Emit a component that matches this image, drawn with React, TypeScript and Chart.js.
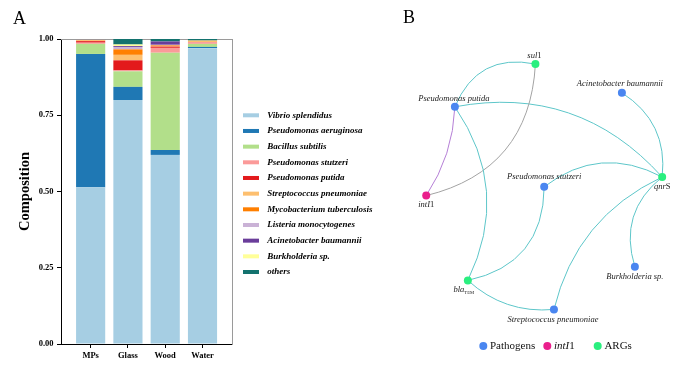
import React, { useEffect, useRef } from 'react';
import { Chart, registerables } from 'chart.js';

Chart.register(...registerables);

// ---------- Panel A data ----------
const categories = ['MPs', 'Glass', 'Wood', 'Water'];
const speciesNames = [
  'Vibrio splendidus',
  'Pseudomonas aeruginosa',
  'Bacillus subtilis',
  'Pseudomonas stutzeri',
  'Pseudomonas putida',
  'Streptococcus pneumoniae',
  'Mycobacterium tuberculosis',
  'Listeria monocytogenes',
  'Acinetobacter baumannii',
  'Burkholderia sp.',
  'others',
];
const vibrio = [0.514, 0.8, 0.62, 0.97];
const aeruginosa = [0.437, 0.043, 0.016, 0.004];
const bacillus = [0.033, 0.051, 0.319, 0.01];
const stutzeri = [0.004, 0.003, 0.016, 0.006];
const putida = [0.005, 0.033, 0.004, 0.0];
const streptococcus = [0.002, 0.018, 0.001, 0.005];
const mycobacterium = [0.002, 0.018, 0.003, 0.0];
const listeria = [0.001, 0.008, 0.002, 0.0];
const acinetobacter = [0.0005, 0.003, 0.011, 0.0];
const burkholderia = [0.0005, 0.005, 0.0, 0.0];
const others = [0.001, 0.018, 0.008, 0.005];
const yTickStep = 0.25;

// ---------- Panel B data ----------
const nodeNames = [
  'Pseudomonas putida',
  'sul1',
  'Acinetobacter baumannii',
  'qnrS',
  'Pseudomonas stutzeri',
  'intI1',
  'blaTEM',
  'Streptococcus pneumoniae',
  'Burkholderia sp.',
];
const nodeTypes = ['Pathogens', 'ARGs', 'Pathogens', 'ARGs', 'Pathogens', 'intI1', 'ARGs', 'Pathogens', 'Pathogens'];
const nodeX = [72.7, 155.3, 244, 285.3, 164.3, 43.3, 86, 174.3, 257.3];
const nodeY = [105, 61.3, 90.7, 176.7, 186.7, 195.7, 282.3, 312, 268.3];
const edgeFrom = [0, 0, 0, 1, 0, 4, 4, 2, 7, 8, 6];
const edgeTo = [1, 3, 5, 5, 6, 6, 3, 3, 3, 3, 7];
const groups = ['Pathogens', 'intI1', 'ARGs'];

// ---------- styles ----------
const SERIF = "'Liberation Serif', 'Times New Roman', serif";
const speciesColors = [
  '#a6cee3', '#1f78b4', '#b2df8a', '#fb9a99', '#e31a1c', '#fdbf6f',
  '#ff7f00', '#cab2d6', '#6a3d9a', '#ffff99', '#13726e',
];
const groupColors: Record<string, string> = { Pathogens: '#4a86f0', intI1: '#ea1f8c', ARGs: '#2aef7f' };
const edgeBend = [-0.41, -0.28, -0.14, -0.37, -0.29, -0.4, -0.32, -0.31, -0.24, -0.34, 0.22];
const labelDx = [-1, -1, -2, 0, 0, 0, -4, -1, 0];
const labelDy = [-8.5, -8, -8.7, 9.3, -9.7, 9.3, 9.4, 10, 9.7];
const legendDotX = [103.3, 167.3, 217.7];

type Part = { t: string; italic?: boolean; sub?: boolean };
const geneParts: Record<string, Part[]> = {
  sul1: [{ t: 'sul', italic: true }, { t: '1' }],
  qnrS: [{ t: 'qnr', italic: true }, { t: 'S' }],
  intI1: [{ t: 'intI', italic: true }, { t: '1' }],
  blaTEM: [{ t: 'bla', italic: true }, { t: 'TEM', sub: true }],
};

function drawParts(ctx: CanvasRenderingContext2D, parts: Part[], x: number, y: number, size: number, align: 'center' | 'left') {
  const fontFor = (p: Part) => `${p.italic ? 'italic ' : ''}${p.sub ? size * 0.55 : size}px ${SERIF}`;
  let total = 0;
  parts.forEach((p) => {
    ctx.font = fontFor(p);
    total += ctx.measureText(p.t).width;
  });
  let xx = align === 'center' ? x - total / 2 : x;
  ctx.textAlign = 'left';
  ctx.textBaseline = 'middle';
  parts.forEach((p) => {
    ctx.font = fontFor(p);
    ctx.fillText(p.t, xx, y + (p.sub ? size * 0.4 : 0));
    xx += ctx.measureText(p.t).width;
  });
}

function edgeColor(a: string, b: string) {
  const s = [a, b].sort().join('-');
  if (s === 'ARGs-intI1') return '#a3a3a3';
  if (s === 'Pathogens-intI1') return '#b57fd6';
  return '#5dc6c9';
}

const panelLabel = (text: string, x: number, y: number) => ({
  id: 'panelLabel' + text,
  afterDraw(chart: any) {
    const ctx = chart.ctx;
    ctx.save();
    ctx.fillStyle = '#000';
    ctx.font = `18px ${SERIF}`;
    ctx.textAlign = 'center';
    ctx.textBaseline = 'middle';
    ctx.fillText(text, x, y);
    ctx.restore();
  },
});

// legend of panel A, built from the chart's datasets, placed to the right of the plot frame
const speciesLegend = {
  id: 'speciesLegend',
  afterDraw(chart: any) {
    const ctx = chart.ctx;
    const left = chart.chartArea.right + 11;
    const top = 115.3;
    const step = 15.67;
    ctx.save();
    ctx.font = `italic bold 9px ${SERIF}`;
    ctx.textAlign = 'left';
    ctx.textBaseline = 'middle';
    chart.data.datasets.forEach((ds: any, i: number) => {
      const y = top + i * step;
      ctx.fillStyle = ds.backgroundColor;
      ctx.fillRect(left, y - 2, 16, 4);
      ctx.fillStyle = '#000';
      ctx.fillText(ds.label, left + 24.3, y);
    });
    ctx.restore();
  },
};

const networkPlugin = {
  id: 'network',
  beforeDatasetsDraw(chart: any) {
    const { ctx, scales } = chart;
    const sx = scales.x;
    const sy = scales.y;
    ctx.save();
    ctx.lineWidth = 1;
    edgeFrom.forEach((a, e) => {
      const b = edgeTo[e];
      const ax = sx.getPixelForValue(nodeX[a]);
      const ay = sy.getPixelForValue(nodeY[a]);
      const bx = sx.getPixelForValue(nodeX[b]);
      const by = sy.getPixelForValue(nodeY[b]);
      const k = edgeBend[e];
      const cx = (ax + bx) / 2 + k * -(by - ay);
      const cy = (ay + by) / 2 + k * (bx - ax);
      ctx.strokeStyle = edgeColor(nodeTypes[a], nodeTypes[b]);
      ctx.beginPath();
      ctx.moveTo(ax, ay);
      ctx.quadraticCurveTo(cx, cy, bx, by);
      ctx.stroke();
    });
    ctx.restore();
  },
  afterDatasetsDraw(chart: any) {
    const { ctx, scales } = chart;
    const sx = scales.x;
    const sy = scales.y;
    ctx.save();
    ctx.fillStyle = '#222';
    nodeNames.forEach((n, i) => {
      const parts = geneParts[n] || [{ t: n, italic: true }];
      drawParts(ctx, parts, sx.getPixelForValue(nodeX[i]) + labelDx[i], sy.getPixelForValue(nodeY[i]) + labelDy[i], 8.5, 'center');
    });
    const ly = 346;
    groups.forEach((g, i) => {
      ctx.fillStyle = groupColors[g];
      ctx.beginPath();
      ctx.arc(legendDotX[i], ly, 4, 0, Math.PI * 2);
      ctx.fill();
      ctx.fillStyle = '#111';
      const parts = geneParts[g] || [{ t: g }];
      drawParts(ctx, parts, legendDotX[i] + 6.7, ly, 11, 'left');
    });
    ctx.restore();
  },
};

export default function App() {
  const refA = useRef<HTMLCanvasElement>(null);
  const refB = useRef<HTMLCanvasElement>(null);

  useEffect(() => {
    document.body.style.margin = '0';
    const series = [vibrio, aeruginosa, bacillus, stutzeri, putida, streptococcus, mycobacterium, listeria, acinetobacter, burkholderia, others];
    const tickFont = { family: SERIF, size: 8.5, weight: 'bold' as const };

    const chartA = new Chart(refA.current!, {
      type: 'bar',
      data: {
        datasets: series.map((arr, s) => ({
          label: speciesNames[s],
          data: arr.map((v, i) => ({ x: i, y: v })),
          backgroundColor: speciesColors[s],
          borderWidth: 0,
          barPercentage: 0.977,
          categoryPercentage: 0.8,
        })),
      },
      options: {
        animation: false,
        responsive: false,
        maintainAspectRatio: false,
        layout: { padding: { top: 4.6, right: 147, bottom: 0, left: 0 } },
        scales: {
          x: {
            type: 'linear',
            stacked: true,
            min: -0.795,
            max: 3.791,
            offset: false,
            afterFit: (s: any) => { s.height = 38; },
            grid: { display: true, drawOnChartArea: false, drawTicks: true, tickLength: 4, color: '#000', offset: false },
            border: { display: true, color: '#000', width: 1 },
            ticks: {
              stepSize: 1,
              includeBounds: false,
              autoSkip: false,
              maxRotation: 0,
              padding: 3,
              color: '#000',
              font: tickFont,
              callback: (v: any) => categories[v] ?? '',
            },
          },
          y: {
            type: 'linear',
            stacked: true,
            min: 0,
            max: 1,
            afterFit: (s: any) => { s.width = 61; },
            grid: { display: true, drawOnChartArea: false, drawTicks: true, tickLength: 4, color: '#000' },
            border: { display: true, color: '#000', width: 1 },
            ticks: {
              stepSize: yTickStep,
              padding: 3.5,
              color: '#000',
              font: { family: SERIF, size: 8.5, weight: 'bold' },
              callback: (v: any) => Number(v).toFixed(2),
            },
            title: {
              display: true,
              text: 'Composition',
              color: '#000',
              font: { family: SERIF, size: 14.5, weight: 'bold' },
              padding: { top: 16.3, bottom: 0 },
            },
          },
          x2: {
            type: 'linear',
            position: 'top',
            display: true,
            afterFit: (s: any) => { s.height = 34.4; },
            grid: { display: false },
            ticks: { display: false },
            border: { display: true, color: '#9a9a9a', width: 1 },
          },
          y2: {
            type: 'linear',
            position: 'right',
            display: true,
            afterFit: (s: any) => { s.width = 1; },
            grid: { display: false },
            ticks: { display: false },
            border: { display: true, color: '#9a9a9a', width: 1 },
          },
        },
        plugins: {
          legend: { display: false },
          tooltip: { enabled: false },
        },
      } as any,
      plugins: [speciesLegend, panelLabel('A', 19.5, 19)],
    });

    const chartB = new Chart(refB.current!, {
      type: 'scatter',
      data: {
        datasets: groups.map((g) => ({
          label: g,
          data: nodeNames
            .map((_, i) => (nodeTypes[i] === g ? { x: nodeX[i], y: nodeY[i] } : null))
            .filter((d) => d !== null) as any,
          backgroundColor: groupColors[g],
          borderWidth: 0,
          pointRadius: 4,
          pointHoverRadius: 4,
        })),
      },
      options: {
        animation: false,
        responsive: false,
        maintainAspectRatio: false,
        layout: { padding: 0 },
        scales: {
          x: { type: 'linear', display: false, min: 0, max: 320 },
          y: { type: 'linear', display: false, min: 0, max: 382, reverse: true },
        },
        plugins: { legend: { display: false }, tooltip: { enabled: false } },
      } as any,
      plugins: [networkPlugin, panelLabel('B', 29, 18)],
    });

    return () => {
      chartA.destroy();
      chartB.destroy();
    };
  }, []);

  return (
    <div style={{ position: 'fixed', left: 0, top: 0, width: 700, height: 382, background: '#fff' }}>
      <canvas ref={refA} width={380} height={382} style={{ position: 'absolute', left: 0, top: 0, width: 380, height: 382 }} />
      <canvas ref={refB} width={320} height={382} style={{ position: 'absolute', left: 380, top: 0, width: 320, height: 382 }} />
    </div>
  );
}
